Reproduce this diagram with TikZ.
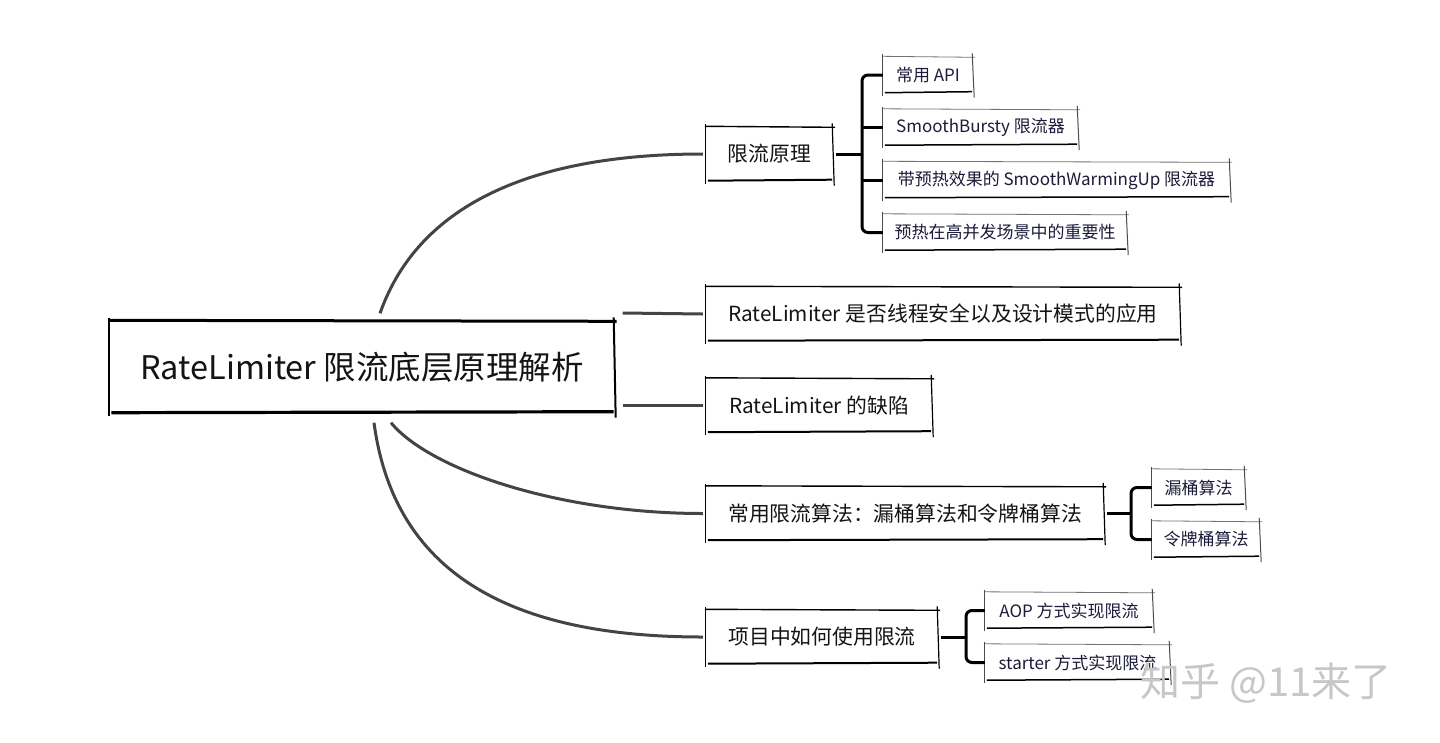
\documentclass[tikz,border=0pt]{standalone}
\usepackage{fontspec}
\setmainfont{Noto Sans CJK SC}
\begin{document}
\begin{tikzpicture}[x=1pt,y=-1pt,
  box/.style={inner sep=0pt, text={rgb,255:red,20;green,20;blue,20}},
  rootbox/.style={box, minimum width=505pt, minimum height=91pt, font=\fontsize{32.5}{38}\selectfont},
  midbox/.style={box, minimum height=53pt, font=\fontsize{20.8}{24}\selectfont},
  leafbox/.style={box, minimum height=35pt, font=\fontsize{17}{20}\selectfont, text={rgb,255:red,28;green,28;blue,58}},
  link/.style={draw={rgb,255:red,68;green,68;blue,68}, line width=3pt},
  brace/.style={draw=black, line width=3pt, rounded corners=6pt},
  roottop/.style={line width=3pt},
  rootside/.style={line width=2pt},
  rootbot/.style={line width=3.2pt},
  midtop/.style={line width=1.4pt},
  midside/.style={line width=1.2pt},
  midbot/.style={line width=2pt},
  leaftop/.style={line width=0.8pt, draw=black!55},
  leafside/.style={line width=1pt, draw=black!70},
  leafbot/.style={line width=1.5pt},
]
\newcommand\skb[2]{%
  \draw[#2top] ([xshift=-1pt,yshift=1pt]#1.north west) -- ([xshift=2pt]#1.north east);
  \draw[#2side] ([yshift=3pt]#1.north west) -- ([yshift=-3pt]#1.south west);
  \draw[#2side] ([xshift=-1pt,yshift=4pt]#1.north east) -- ([xshift=1pt,yshift=-5pt]#1.south east);
  \draw[#2bot] ([xshift=2pt]#1.south west) -- ([xshift=-1pt,yshift=1pt]#1.south east);}
\fill[white] (0,0) rectangle (1440,742);
\useasboundingbox (0,0) rectangle (1440,742);

% root
\node[rootbox] (root) at (362,367) {RateLimiter 限流底层原理解析};
\skb{root}{root}

% branches
\node[midbox, minimum width=127pt] (b1) at (769.5,154) {限流原理};
\node[midbox, minimum width=474pt] (b2) at (943,314) {RateLimiter 是否线程安全以及设计模式的应用};
\node[midbox, minimum width=226pt] (b3) at (819,405.5) {RateLimiter 的缺陷};
\node[midbox, minimum width=398pt] (b4) at (905,513.5) {常用限流算法：漏桶算法和令牌桶算法};
\node[midbox, minimum width=232pt] (b5) at (822,637) {项目中如何使用限流};
\foreach \n in {b1,b2,b3,b4,b5} {\skb{\n}{mid}}

% leaves
\node[leafbox, minimum width=90pt] (l1) at (928,75) {常用 API};
\node[leafbox, minimum width=195pt] (l2) at (980.5,127.5) {SmoothBursty 限流器};
\node[leafbox, minimum width=347pt] (l3) at (1056.5,180) {带预热效果的 SmoothWarmingUp 限流器};
\node[leafbox, minimum width=244pt] (l4) at (1005,232.5) {预热在高并发场景中的重要性};
\node[leafbox, minimum width=93pt] (l5) at (1198.5,487.5) {漏桶算法};
\node[leafbox, minimum width=108pt] (l6) at (1206,539.5) {令牌桶算法};
\node[leafbox, minimum width=168pt] (l7) at (1069,610.5) {AOP 方式实现限流};
\node[leafbox, minimum width=185pt] (l8) at (1077.5,662.5) {starter 方式实现限流};
\foreach \n in {l1,l2,l3,l4,l5,l6,l7,l8} {\skb{\n}{leaf}}

% root connectors
\draw[link] ([xshift=18pt,yshift=8pt]root.north) .. controls (420,200) and (540,154) .. ([xshift=-3pt]b1.west);
\draw[link] ([xshift=8pt,yshift=1pt]root.east |- b2.west) -- ([xshift=-3pt]b2.west);
\draw[link] ([xshift=8pt]root.east |- b3.west) -- ([xshift=-3pt]b3.west);
\draw[link] ([xshift=29pt,yshift=-10pt]root.south) .. controls (430,470) and (560,513.5) .. ([xshift=-3pt]b4.west);
\draw[link] ([xshift=12pt,yshift=-10pt]root.south) .. controls (395,580) and (520,637) .. ([xshift=-3pt]b5.west);

% braces
\coordinate (j1) at (862,154);
\draw[brace] ([xshift=3pt]b1.east) -- (j1);
\draw[brace] (l1.west) -- (l1.west -| j1) -- (l4.west -| j1) -- (l4.west);
\draw[brace] (l2.west -| j1) -- (l2.west);
\draw[brace] (l3.west -| j1) -- (l3.west);

\coordinate (j4) at (1131,513.5);
\draw[brace] ([xshift=3pt]b4.east) -- (j4);
\draw[brace] (l5.west) -- (l5.west -| j4) -- (l6.west -| j4) -- (l6.west);

\coordinate (j5) at (966,637);
\draw[brace] ([xshift=3pt]b5.east) -- (j5);
\draw[brace] (l7.west) -- (l7.west -| j5) -- (l8.west -| j5) -- (l8.west);

% watermark
\node[font=\fontsize{40}{44}\selectfont, text=black!22] (wm) at (1266,683) {知乎 @11来了};
\end{tikzpicture}
\end{document}
